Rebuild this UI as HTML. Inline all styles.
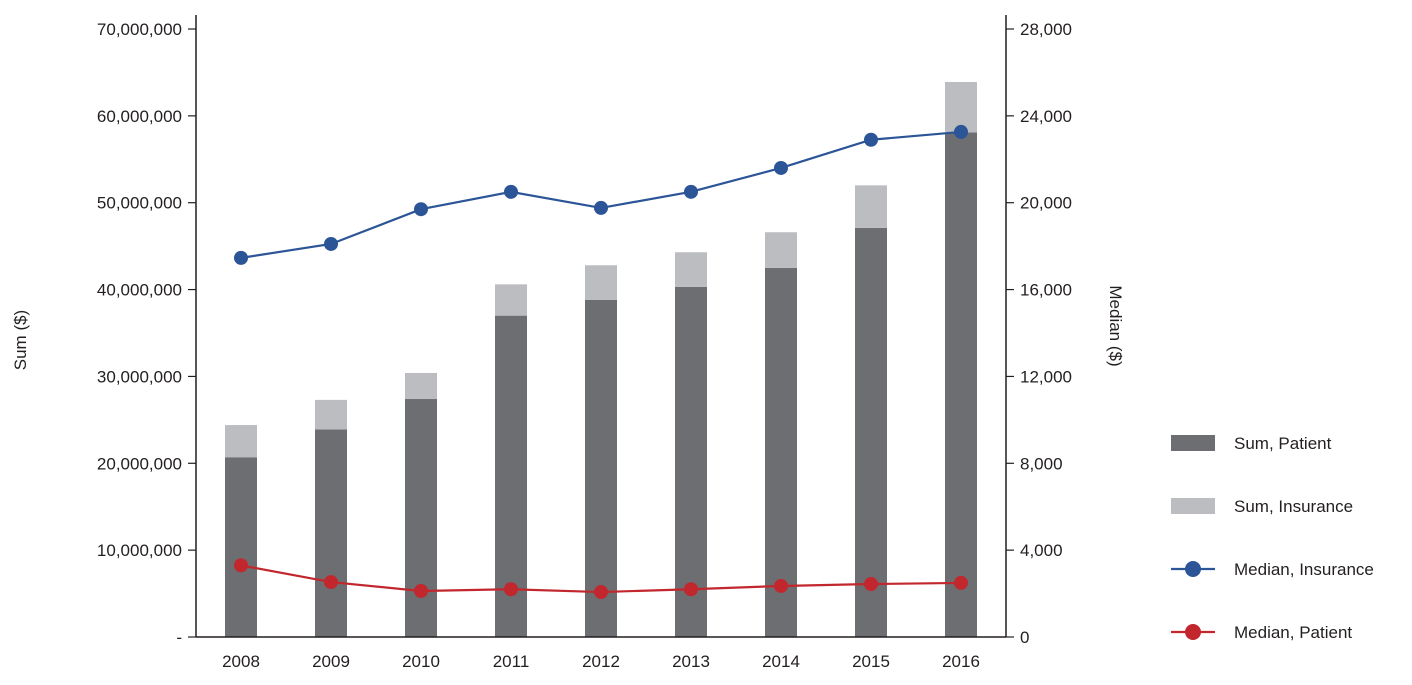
<!DOCTYPE html>
<html><head><meta charset="utf-8"><style>
body{margin:0;background:#fff;}
svg text{font-family:"Liberation Sans",sans-serif;fill:#231f20;}
</style></head><body>
<svg id="chart" width="1412" height="680" xmlns="http://www.w3.org/2000/svg"></svg>
<script>
const years=["2008","2009","2010","2011","2012","2013","2014","2015","2016"];
const sumPatient=[20.7,23.9,27.4,37.0,38.8,40.3,42.5,47.1,58.1];
const sumInsurance=[3.7,3.4,3.0,3.6,4.0,4.0,4.1,4.9,5.8];
const medianInsurance=[17.46,18.1,19.7,20.5,19.76,20.5,21.6,22.9,23.26];
const medianPatient=[3.3,2.53,2.12,2.2,2.07,2.2,2.35,2.44,2.49];
const leftTicks=["-","10,000,000","20,000,000","30,000,000","40,000,000","50,000,000","60,000,000","70,000,000"];
const rightTicks=["0","4,000","8,000","12,000","16,000","20,000","24,000","28,000"];
const svg=document.getElementById('chart');
const NS="http://www.w3.org/2000/svg";
function mk(t,a,p){const e=document.createElementNS(NS,t);for(const k in a)e.setAttribute(k,a[k]);(p||svg).appendChild(e);return e;}
const x0=196,x1=1006,yB=637,yT=29;
const yL=v=>yB-(v/70)*(yB-yT);   // millions
const yR=v=>yB-(v/28)*(yB-yT);   // thousands
const step=(x1-x0)/years.length;
const xC=i=>x0+step*(i+0.5);
const bw=32;
// axes
let e;
e=mk('line',{x1:x0,y1:15,x2:x0,y2:yB,stroke:'#231f20','stroke-width':1.5});

e=mk('line',{x1:x1,y1:15,x2:x1,y2:yB,stroke:'#231f20','stroke-width':1.5});

leftTicks.forEach((t,i)=>{const y=yL(i*10);
 mk('line',{x1:x0-8,y1:y,x2:x0,y2:y,stroke:'#231f20','stroke-width':1.2});
 const tx=mk('text',{x:x0-14,y:y+6,'text-anchor':'end','font-size':17});tx.textContent=t;
 });
rightTicks.forEach((t,i)=>{const y=yR(i*4);
 mk('line',{x1:x1,y1:y,x2:x1+8,y2:y,stroke:'#231f20','stroke-width':1.2});
 const tx=mk('text',{x:x1+14,y:y+6,'font-size':17});tx.textContent=t;
 });
// bars
years.forEach((yr,i)=>{
 const cx=xC(i);
 const b1=mk('rect',{x:cx-bw/2,y:yL(sumPatient[i]),width:bw,height:yB-yL(sumPatient[i]),fill:'#6d6e71'});
 
 const tot=sumPatient[i]+sumInsurance[i];
 const b2=mk('rect',{x:cx-bw/2,y:yL(tot),width:bw,height:yL(sumPatient[i])-yL(tot),fill:'#bcbdc1'});
 
 const tx=mk('text',{x:cx,y:667,'text-anchor':'middle','font-size':17});tx.textContent=yr;
 
});
e=mk('line',{x1:x0,y1:yB,x2:x1,y2:yB,stroke:'#231f20','stroke-width':1.5});

function series(vals,color,name){
 const pts=vals.map((v,i)=>xC(i)+','+yR(v)).join(' ');
 const l=mk('polyline',{points:pts,fill:'none',stroke:color,'stroke-width':2.2});
 
 vals.forEach((v,i)=>{const c=mk('circle',{cx:xC(i),cy:yR(v),r:7,fill:color});
  });
}
series(medianInsurance,'#2b5597','median-insurance');
series(medianPatient,'#c1272d','median-patient');
// axis titles
e=mk('text',{x:0,y:0,'font-size':17,'text-anchor':'middle',transform:'translate(26,340) rotate(-90)'});e.textContent='Sum ($)';

e=mk('text',{x:0,y:0,'font-size':17,'text-anchor':'middle',transform:'translate(1110,326) rotate(90)'});e.textContent='Median ($)';

// legend
const lg=[['Sum, Patient','#6d6e71','rect',443],['Sum, Insurance','#bcbdc1','rect',506],['Median, Insurance','#2b5597','line',569],['Median, Patient','#c1272d','line',632]];
lg.forEach(([t,c,k,y])=>{
 const g=mk('g',{});
 if(k==='rect')mk('rect',{x:1171,y:y-8,width:44,height:16,fill:c},g);
 else{mk('line',{x1:1171,y1:y,x2:1215,y2:y,stroke:c,'stroke-width':2.2},g);mk('circle',{cx:1193,cy:y,r:8,fill:c},g);}
 const tx=mk('text',{x:1234,y:y+6,'font-size':17},g);tx.textContent=t;
});
</script>
</body></html>
